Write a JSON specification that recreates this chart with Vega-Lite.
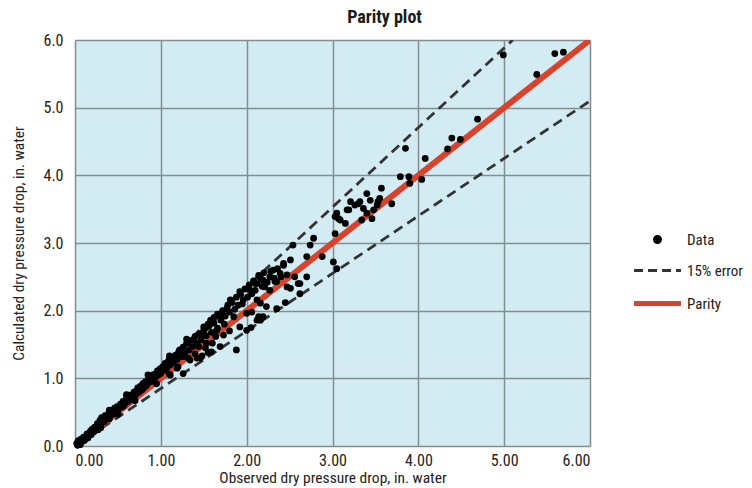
{
  "$schema": "https://vega.github.io/schema/vega-lite/v6.json",
  "autosize": "none",
  "width": 515,
  "height": 406,
  "padding": {"left": 75, "top": 40, "right": 162, "bottom": 42},
  "background": "white",
  "title": {
    "text": "Parity plot",
    "anchor": "middle",
    "dx": 52,
    "offset": 5,
    "fontSize": 18,
    "fontWeight": "bold",
    "font": "'Roboto Condensed', Roboto, sans-serif",
    "color": "#1a1a1a"
  },
  "config": {
    "view": {"fill": "#d3ecf3", "stroke": null},
    "font": "'Roboto Condensed', Roboto, sans-serif",
    "axis": {
      "grid": true,
      "gridColor": "#828d8f",
      "gridWidth": 1.5,
      "gridOpacity": 1,
      "domain": false,
      "ticks": false,
      "tickSize": 0,
      "labelFontSize": 16,
      "labelColor": "#222",
      "titleFontSize": 15.5,
      "titleFontWeight": "normal",
      "titleColor": "#222"
    },
    "legend": {
      "labelFontSize": 15,
      "labelColor": "#222"
    }
  },
  "datasets": {
    "guides": [
      {"series": "15% error", "part": "upper", "obs": 0, "calc": 0},
      {"series": "15% error", "part": "upper", "obs": 5.1, "calc": 6.0},
      {"series": "15% error", "part": "lower", "obs": 0, "calc": 0},
      {"series": "15% error", "part": "lower", "obs": 6.0, "calc": 5.1},
      {"series": "Parity", "part": "parity", "obs": 0, "calc": 0},
      {"series": "Parity", "part": "parity", "obs": 6.0, "calc": 6.0}
    ],
    "measured": [
      {"obs": 4.99, "calc": 5.78}, {"obs": 5.59, "calc": 5.80}, {"obs": 5.69, "calc": 5.82},
      {"obs": 5.38, "calc": 5.49}, {"obs": 4.69, "calc": 4.83}, {"obs": 4.39, "calc": 4.55},
      {"obs": 4.49, "calc": 4.53}, {"obs": 4.34, "calc": 4.39}, {"obs": 4.08, "calc": 4.25},
      {"obs": 3.85, "calc": 4.40}, {"obs": 4.04, "calc": 3.94}, {"obs": 3.79, "calc": 3.98},
      {"obs": 3.89, "calc": 3.98}, {"obs": 3.90, "calc": 3.88}, {"obs": 3.40, "calc": 3.73},
      {"obs": 3.57, "calc": 3.81}, {"obs": 3.55, "calc": 3.66}, {"obs": 3.44, "calc": 3.63},
      {"obs": 3.32, "calc": 3.61}, {"obs": 3.26, "calc": 3.56}, {"obs": 3.19, "calc": 3.49},
      {"obs": 3.36, "calc": 3.51}, {"obs": 3.40, "calc": 3.44}, {"obs": 3.48, "calc": 3.49},
      {"obs": 3.52, "calc": 3.56}, {"obs": 3.69, "calc": 3.58}, {"obs": 3.03, "calc": 3.39},
      {"obs": 3.09, "calc": 3.34}, {"obs": 3.15, "calc": 3.29}, {"obs": 3.03, "calc": 3.14},
      {"obs": 3.34, "calc": 3.34}, {"obs": 3.46, "calc": 3.36}, {"obs": 3.21, "calc": 3.61},
      {"obs": 3.30, "calc": 3.58}, {"obs": 3.05, "calc": 3.44}, {"obs": 3.17, "calc": 3.49},
      {"obs": 3.53, "calc": 3.61}, {"obs": 3.07, "calc": 3.36}, {"obs": 2.78, "calc": 3.07},
      {"obs": 2.54, "calc": 2.97}, {"obs": 2.74, "calc": 2.97}, {"obs": 2.51, "calc": 2.75},
      {"obs": 2.70, "calc": 2.80}, {"obs": 2.88, "calc": 2.80}, {"obs": 3.01, "calc": 2.72},
      {"obs": 3.05, "calc": 2.62}, {"obs": 2.43, "calc": 2.67}, {"obs": 2.39, "calc": 2.55},
      {"obs": 2.27, "calc": 2.50}, {"obs": 2.16, "calc": 2.48}, {"obs": 2.10, "calc": 2.40},
      {"obs": 2.21, "calc": 2.35}, {"obs": 2.33, "calc": 2.43}, {"obs": 2.47, "calc": 2.35},
      {"obs": 2.62, "calc": 2.40}, {"obs": 2.70, "calc": 2.50}, {"obs": 2.56, "calc": 2.50},
      {"obs": 2.16, "calc": 2.11}, {"obs": 2.19, "calc": 1.91}, {"obs": 2.06, "calc": 1.98},
      {"obs": 2.12, "calc": 1.86}, {"obs": 2.43, "calc": 2.70}, {"obs": 2.31, "calc": 2.60},
      {"obs": 2.47, "calc": 2.53}, {"obs": 2.19, "calc": 2.45}, {"obs": 2.12, "calc": 2.40},
      {"obs": 2.35, "calc": 2.43}, {"obs": 2.04, "calc": 2.30}, {"obs": 2.27, "calc": 2.30},
      {"obs": 2.51, "calc": 2.33}, {"obs": 2.60, "calc": 2.40}, {"obs": 1.92, "calc": 2.28},
      {"obs": 1.81, "calc": 2.16}, {"obs": 1.96, "calc": 2.16}, {"obs": 2.12, "calc": 2.16},
      {"obs": 1.77, "calc": 2.03}, {"obs": 1.69, "calc": 1.91}, {"obs": 1.85, "calc": 1.91},
      {"obs": 2.00, "calc": 1.96}, {"obs": 2.14, "calc": 1.91}, {"obs": 2.23, "calc": 2.06},
      {"obs": 2.35, "calc": 2.03}, {"obs": 1.59, "calc": 1.81}, {"obs": 1.50, "calc": 1.76},
      {"obs": 1.48, "calc": 1.66}, {"obs": 1.65, "calc": 1.71}, {"obs": 1.73, "calc": 1.64},
      {"obs": 1.92, "calc": 1.76}, {"obs": 2.00, "calc": 1.71}, {"obs": 2.16, "calc": 1.86},
      {"obs": 1.88, "calc": 1.42}, {"obs": 1.38, "calc": 1.57}, {"obs": 1.30, "calc": 1.52},
      {"obs": 1.44, "calc": 1.47}, {"obs": 1.53, "calc": 1.52}, {"obs": 1.59, "calc": 1.39},
      {"obs": 1.69, "calc": 1.47}, {"obs": 1.22, "calc": 1.42}, {"obs": 1.26, "calc": 1.32},
      {"obs": 1.15, "calc": 1.27}, {"obs": 1.34, "calc": 1.27}, {"obs": 1.46, "calc": 1.30},
      {"obs": 1.07, "calc": 1.17}, {"obs": 1.19, "calc": 1.15}, {"obs": 0.99, "calc": 1.07},
      {"obs": 1.11, "calc": 1.05}, {"obs": 1.26, "calc": 1.07}, {"obs": 0.91, "calc": 1.02},
      {"obs": 2.45, "calc": 2.12}, {"obs": 2.62, "calc": 2.25}, {"obs": 2.05, "calc": 1.75},
      {"obs": 1.48, "calc": 1.33}, {"obs": 1.55, "calc": 1.38}, {"obs": 1.42, "calc": 1.30},
      {"obs": 1.62, "calc": 1.90}, {"obs": 1.66, "calc": 1.95}, {"obs": 1.70, "calc": 1.86},
      {"obs": 1.72, "calc": 2.00}, {"obs": 1.75, "calc": 1.92}, {"obs": 1.78, "calc": 2.08},
      {"obs": 1.80, "calc": 1.98}, {"obs": 1.83, "calc": 2.12}, {"obs": 1.86, "calc": 2.02},
      {"obs": 1.88, "calc": 2.20}, {"obs": 1.90, "calc": 2.08}, {"obs": 1.93, "calc": 2.24},
      {"obs": 1.95, "calc": 2.10}, {"obs": 1.98, "calc": 2.32}, {"obs": 2.01, "calc": 2.20},
      {"obs": 2.03, "calc": 2.38}, {"obs": 2.06, "calc": 2.25}, {"obs": 2.08, "calc": 2.44},
      {"obs": 2.10, "calc": 2.30}, {"obs": 2.14, "calc": 2.52}, {"obs": 2.18, "calc": 2.36},
      {"obs": 2.20, "calc": 2.56}, {"obs": 2.24, "calc": 2.42}, {"obs": 2.28, "calc": 2.58},
      {"obs": 2.32, "calc": 2.48}, {"obs": 2.36, "calc": 2.62}, {"obs": 2.40, "calc": 2.50},
      {"obs": 1.74, "calc": 1.80}, {"obs": 1.58, "calc": 1.86}, {"obs": 1.55, "calc": 1.80},
      {"obs": 1.52, "calc": 1.74}, {"obs": 1.64, "calc": 1.62}, {"obs": 1.80, "calc": 1.70},
      {"obs": 0.95, "calc": 0.92}, {"obs": 1.10, "calc": 1.06}, {"obs": 1.20, "calc": 1.17},
      {"obs": 1.32, "calc": 1.30}, {"obs": 1.40, "calc": 1.36}, {"obs": 1.52, "calc": 1.45},
      {"obs": 1.60, "calc": 1.52}, {"obs": 0.50, "calc": 0.47}, {"obs": 0.30, "calc": 0.27},
      {"obs": 0.70, "calc": 0.67}, {"obs": 0.40, "calc": 0.53}, {"obs": 0.60, "calc": 0.76},
      {"obs": 0.85, "calc": 1.05}, {"obs": 1.10, "calc": 1.33}, {"obs": 1.30, "calc": 1.58},
      {"obs": 0.02, "calc": 0.04}, {"obs": 0.03, "calc": 0.01}, {"obs": 0.04, "calc": 0.08},
      {"obs": 0.05, "calc": 0.05}, {"obs": 0.06, "calc": 0.02}, {"obs": 0.07, "calc": 0.10},
      {"obs": 0.08, "calc": 0.06}, {"obs": 0.10, "calc": 0.13}, {"obs": 0.11, "calc": 0.08},
      {"obs": 0.12, "calc": 0.11}, {"obs": 0.14, "calc": 0.18}, {"obs": 0.15, "calc": 0.12},
      {"obs": 0.16, "calc": 0.15}, {"obs": 0.18, "calc": 0.22}, {"obs": 0.19, "calc": 0.17},
      {"obs": 0.20, "calc": 0.25}, {"obs": 0.22, "calc": 0.21}, {"obs": 0.23, "calc": 0.28},
      {"obs": 0.25, "calc": 0.26}, {"obs": 0.26, "calc": 0.33}, {"obs": 0.27, "calc": 0.24},
      {"obs": 0.29, "calc": 0.38}, {"obs": 0.30, "calc": 0.31}, {"obs": 0.31, "calc": 0.42},
      {"obs": 0.32, "calc": 0.35}, {"obs": 0.34, "calc": 0.36}, {"obs": 0.35, "calc": 0.45},
      {"obs": 0.36, "calc": 0.39}, {"obs": 0.38, "calc": 0.43}, {"obs": 0.39, "calc": 0.48},
      {"obs": 0.40, "calc": 0.40}, {"obs": 0.42, "calc": 0.51}, {"obs": 0.43, "calc": 0.46},
      {"obs": 0.45, "calc": 0.50}, {"obs": 0.46, "calc": 0.56}, {"obs": 0.47, "calc": 0.48},
      {"obs": 0.49, "calc": 0.58}, {"obs": 0.50, "calc": 0.53}, {"obs": 0.52, "calc": 0.56},
      {"obs": 0.53, "calc": 0.62}, {"obs": 0.55, "calc": 0.58}, {"obs": 0.56, "calc": 0.66},
      {"obs": 0.57, "calc": 0.60}, {"obs": 0.59, "calc": 0.64}, {"obs": 0.60, "calc": 0.71},
      {"obs": 0.62, "calc": 0.66}, {"obs": 0.63, "calc": 0.74}, {"obs": 0.65, "calc": 0.69},
      {"obs": 0.66, "calc": 0.76}, {"obs": 0.67, "calc": 0.71}, {"obs": 0.69, "calc": 0.80},
      {"obs": 0.70, "calc": 0.75}, {"obs": 0.72, "calc": 0.78}, {"obs": 0.73, "calc": 0.86},
      {"obs": 0.75, "calc": 0.80}, {"obs": 0.76, "calc": 0.88}, {"obs": 0.78, "calc": 0.83},
      {"obs": 0.79, "calc": 0.92}, {"obs": 0.80, "calc": 0.86}, {"obs": 0.82, "calc": 0.95},
      {"obs": 0.83, "calc": 0.89}, {"obs": 0.85, "calc": 0.93}, {"obs": 0.86, "calc": 1.00},
      {"obs": 0.88, "calc": 0.95}, {"obs": 0.89, "calc": 1.04}, {"obs": 0.91, "calc": 0.99},
      {"obs": 0.92, "calc": 1.06}, {"obs": 0.94, "calc": 1.02}, {"obs": 0.96, "calc": 1.11},
      {"obs": 0.97, "calc": 1.05}, {"obs": 0.99, "calc": 1.14}, {"obs": 1.00, "calc": 1.08},
      {"obs": 1.02, "calc": 1.17}, {"obs": 1.04, "calc": 1.12}, {"obs": 1.05, "calc": 1.22},
      {"obs": 1.07, "calc": 1.15}, {"obs": 1.09, "calc": 1.26}, {"obs": 1.11, "calc": 1.20},
      {"obs": 1.13, "calc": 1.30}, {"obs": 1.15, "calc": 1.24}, {"obs": 1.17, "calc": 1.34},
      {"obs": 1.19, "calc": 1.28}, {"obs": 1.21, "calc": 1.40}, {"obs": 1.24, "calc": 1.33},
      {"obs": 1.26, "calc": 1.46}, {"obs": 1.28, "calc": 1.37}, {"obs": 1.31, "calc": 1.52},
      {"obs": 1.33, "calc": 1.42}, {"obs": 1.35, "calc": 1.56}, {"obs": 1.37, "calc": 1.47},
      {"obs": 1.40, "calc": 1.62}, {"obs": 1.42, "calc": 1.52}, {"obs": 1.45, "calc": 1.66},
      {"obs": 1.47, "calc": 1.57}, {"obs": 1.50, "calc": 1.71}, {"obs": 1.53, "calc": 1.63},
      {"obs": 1.56, "calc": 1.77}, {"obs": 1.59, "calc": 1.68}, {"obs": 1.62, "calc": 1.82},
      {"obs": 1.66, "calc": 1.74}
    ]
  },
  "layer": [
    {
      "data": {"name": "guides"},
      "transform": [{"filter": "datum.series === '15% error'"}],
      "mark": {"type": "line", "strokeWidth": 2.8, "strokeDash": [10, 6], "clip": true},
      "encoding": {
        "x": {
          "field": "obs", "type": "quantitative",
          "scale": {"domain": [0, 6], "nice": false},
          "axis": {
            "values": [0, 1, 2, 3, 4, 5, 6],
            "format": ".2f",
            "labelPadding": 6,
            "title": "Observed dry pressure drop, in. water",
            "titlePadding": 2
          }
        },
        "y": {
          "field": "calc", "type": "quantitative",
          "scale": {"domain": [0, 6], "nice": false},
          "axis": {
            "values": [0, 1, 2, 3, 4, 5, 6],
            "format": ".1f",
            "labelPadding": 12,
            "title": "Calculated dry pressure drop, in. water",
            "titlePadding": 16
          }
        },
        "detail": {"field": "part"},
        "color": {
          "field": "series", "type": "nominal",
          "scale": {"domain": ["Data", "15% error", "Parity"], "range": ["#000000", "#333333", "#d8432e"]},
          "legend": {
            "title": null,
            "orient": "none",
            "legendX": 575,
            "legendY": 192,
            "values": ["Data", "15% error", "Parity"],
            "symbolSize": 2200,
            "rowPadding": 14,
            "labelOffset": 22,
            "encode": {
              "symbols": {
                "update": {
                  "shape": {"signal": "datum.value === 'Data' ? 'circle' : 'stroke'"},
                  "size": {"signal": "datum.value === 'Data' ? 36 : 2200"},
                  "fill": {"signal": "datum.value === 'Data' ? '#000000' : 'transparent'"},
                  "stroke": {"signal": "datum.value === 'Data' ? 'transparent' : (datum.value === 'Parity' ? '#d8432e' : '#333333')"},
                  "strokeWidth": {"signal": "datum.value === 'Parity' ? 5 : 3"},
                  "strokeDash": {"signal": "datum.value === '15% error' ? [9, 5] : []"},
                  "opacity": {"value": 1}
                }
              }
            }
          }
        }
      }
    },
    {
      "data": {"name": "guides"},
      "transform": [{"filter": "datum.series === 'Parity'"}],
      "mark": {"type": "line", "strokeWidth": 6, "clip": true},
      "encoding": {
        "x": {"field": "obs", "type": "quantitative"},
        "y": {"field": "calc", "type": "quantitative"},
        "color": {"field": "series", "type": "nominal"}
      }
    },
    {
      "data": {"name": "measured"},
      "mark": {"type": "point", "filled": true, "size": 46, "opacity": 1},
      "encoding": {
        "x": {"field": "obs", "type": "quantitative"},
        "y": {"field": "calc", "type": "quantitative"},
        "color": {"datum": "Data", "type": "nominal"}
      }
    }
  ]
}
